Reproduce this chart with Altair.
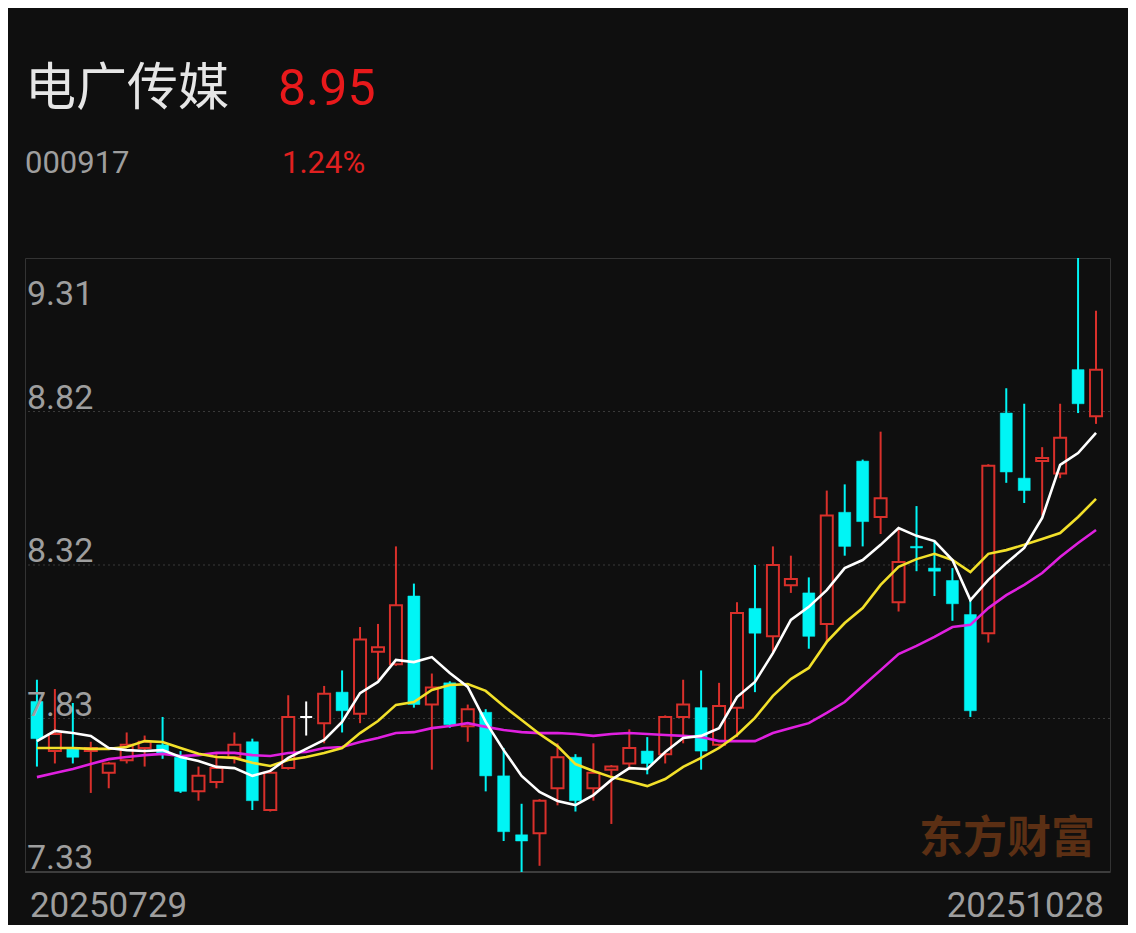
import altair as alt
import pandas as pd

# ---------------- data ----------------
stock_name = "电广传媒"
stock_code = "000917"
last_price = "8.95"
pct_change = "1.24%"
watermark = "东方财富"
date_labels = ["20250729", "20251028"]
date_index = [0, 59]

y_tick_values = [9.31, 8.815, 8.32, 7.825, 7.33]
y_tick_labels = ["9.31", "8.82", "8.32", "7.83", "7.33"]

opens = [7.88, 7.72, 7.73, 7.72, 7.65, 7.69, 7.73, 7.74, 7.70, 7.59,
         7.62, 7.70, 7.75, 7.53, 7.665, 7.83, 7.81, 7.91, 7.84, 8.04,
         8.00, 8.22, 7.87, 7.94, 7.80, 7.845, 7.64, 7.45, 7.455, 7.60,
         7.70, 7.60, 7.66, 7.68, 7.72, 7.71, 7.83, 7.86, 7.74, 7.86,
         8.18, 8.09, 8.255, 8.23, 8.13, 8.49, 8.655, 8.475, 8.20, 8.38,
         8.31, 8.27, 8.16, 8.10, 8.81, 8.60, 8.655, 8.615, 8.95, 8.80]
highs = [7.95, 7.92, 7.875, 7.75, 7.685, 7.78, 7.77, 7.83, 7.72, 7.67,
         7.71, 7.78, 7.76, 7.66, 7.90, 7.88, 7.93, 7.98, 8.12, 8.13,
         8.38, 8.26, 7.97, 7.945, 7.87, 7.855, 7.73, 7.55, 7.565, 7.745,
         7.71, 7.745, 7.675, 7.79, 7.765, 7.835, 7.95, 7.98, 7.94, 8.20,
         8.32, 8.38, 8.35, 8.28, 8.56, 8.58, 8.66, 8.75, 8.44, 8.51,
         8.395, 8.31, 8.21, 8.645, 8.89, 8.84, 8.70, 8.84, 9.31, 9.14]
lows = [7.67, 7.68, 7.68, 7.585, 7.60, 7.68, 7.67, 7.695, 7.585, 7.56,
        7.60, 7.68, 7.53, 7.525, 7.66, 7.77, 7.745, 7.78, 7.81, 7.95,
        7.995, 7.86, 7.66, 7.795, 7.75, 7.59, 7.43, 7.33, 7.35, 7.545,
        7.525, 7.56, 7.485, 7.66, 7.645, 7.68, 7.745, 7.66, 7.735, 7.765,
        7.91, 8.04, 8.23, 8.05, 8.07, 8.35, 8.38, 8.42, 8.17, 8.30,
        8.22, 8.14, 7.83, 8.07, 8.585, 8.52, 8.48, 8.60, 8.81, 8.775]
closes = [7.76, 7.775, 7.70, 7.73, 7.68, 7.74, 7.75, 7.71, 7.59, 7.64,
          7.665, 7.74, 7.56, 7.65, 7.83, 7.83, 7.905, 7.85, 8.08, 8.055,
          8.19, 7.87, 7.925, 7.805, 7.855, 7.64, 7.46, 7.43, 7.56, 7.70,
          7.56, 7.65, 7.67, 7.73, 7.68, 7.83, 7.87, 7.72, 7.865, 8.165,
          8.10, 8.32, 8.275, 8.09, 8.48, 8.38, 8.46, 8.535, 8.33, 8.375,
          8.30, 8.195, 7.85, 8.64, 8.62, 8.56, 8.665, 8.73, 8.84, 8.95]

ma5 = [7.752, 7.785, 7.778, 7.769, 7.730, 7.723, 7.720, 7.723, 7.701, 7.688,
       7.669, 7.665, 7.640, 7.656, 7.698, 7.727, 7.756, 7.814, 7.907, 7.943,
       8.014, 8.007, 8.023, 7.972, 7.927, 7.814, 7.723, 7.640, 7.588, 7.559,
       7.546, 7.578, 7.627, 7.665, 7.662, 7.717, 7.762, 7.769, 7.794, 7.894,
       7.943, 8.036, 8.143, 8.185, 8.239, 8.310, 8.336, 8.385, 8.439, 8.414,
       8.397, 8.336, 8.207, 8.272, 8.326, 8.375, 8.472, 8.643, 8.681, 8.746]
ma10 = [7.730, 7.730, 7.730, 7.727, 7.727, 7.733, 7.752, 7.749, 7.730, 7.711,
        7.701, 7.698, 7.682, 7.672, 7.691, 7.701, 7.714, 7.730, 7.778, 7.817,
        7.869, 7.878, 7.917, 7.933, 7.936, 7.914, 7.865, 7.820, 7.775, 7.736,
        7.678, 7.656, 7.636, 7.623, 7.607, 7.630, 7.669, 7.698, 7.730, 7.772,
        7.827, 7.898, 7.952, 7.988, 8.072, 8.133, 8.181, 8.256, 8.314, 8.339,
        8.356, 8.336, 8.297, 8.356, 8.368, 8.385, 8.404, 8.423, 8.475, 8.533]
ma20 = [7.636, 7.649, 7.662, 7.678, 7.694, 7.701, 7.707, 7.711, 7.704, 7.707,
        7.714, 7.714, 7.707, 7.704, 7.714, 7.717, 7.730, 7.733, 7.749, 7.762,
        7.778, 7.781, 7.794, 7.801, 7.810, 7.798, 7.788, 7.781, 7.778, 7.778,
        7.775, 7.769, 7.775, 7.778, 7.775, 7.772, 7.769, 7.765, 7.752, 7.752,
        7.752, 7.778, 7.794, 7.810, 7.843, 7.878, 7.930, 7.981, 8.033, 8.059,
        8.088, 8.120, 8.127, 8.181, 8.223, 8.256, 8.294, 8.346, 8.391, 8.433]

# ---------------- styles ----------------
BG = "#0f0f0f"
RED = "#d9302b"
CYAN = "#00f5f5"
WHITE = "#ffffff"
YELLOW = "#f2e02a"
MAGENTA = "#e020e0"
GRID = "#3a3a3a"
LABEL = "#9e9e9e"
NUMFONT = "Roboto"
CJKFONT = "Noto Sans CJK SC"

n = len(opens)
idx = list(range(n))
kind = ["up" if c > o else ("down" if c < o else "flat") for o, c in zip(opens, closes)]
df = pd.DataFrame(dict(i=idx, open=opens, high=highs, low=lows, close=closes, kind=kind))

yscale = alt.Scale(domain=[min(y_tick_values), max(y_tick_values)], zero=False, nice=False)
xscale = alt.Scale(domain=[-0.386, 59.5], zero=False, nice=False)
X = alt.X("i:Q", scale=xscale, axis=None)

base = alt.Chart(df)

# grid lines
grid_df = pd.DataFrame({"v": y_tick_values[1:4]})
grid = alt.Chart(grid_df).mark_rule(color=GRID, strokeWidth=1, strokeDash=[2, 3]).encode(
    y=alt.Y("v:Q", scale=yscale, axis=None)
)
bottom_df = pd.DataFrame({"v": [y_tick_values[-1]]})
bottom = alt.Chart(bottom_df).mark_rule(color="#3d3d3d", strokeWidth=2).encode(
    y=alt.Y("v:Q", scale=yscale, axis=None)
)

wicks = base.mark_rule(strokeWidth=2).encode(
    x=X,
    y=alt.Y("low:Q", scale=yscale, axis=None),
    y2="high:Q",
    color=alt.Color("kind:N", scale=alt.Scale(domain=["up", "down", "flat"], range=[RED, CYAN, WHITE]), legend=None),
)

up_body = base.transform_filter(alt.datum.kind == "up").mark_bar(
    size=12, fill=BG, stroke=RED, strokeWidth=2
).encode(x=X, y=alt.Y("open:Q", scale=yscale, axis=None), y2="close:Q")

down_body = base.transform_filter(alt.datum.kind == "down").mark_bar(
    size=12, fill=CYAN, stroke=CYAN, strokeWidth=0.5
).encode(x=X, y=alt.Y("open:Q", scale=yscale, axis=None), y2="close:Q")

flat_body = base.transform_filter(alt.datum.kind == "flat").mark_bar(
    size=12, fill=WHITE, stroke=WHITE, strokeWidth=2
).encode(x=X, y=alt.Y("open:Q", scale=yscale, axis=None), y2="close:Q")


def ma_layer(values, color):
    d = pd.DataFrame({"i": idx, "v": values})
    return alt.Chart(d).mark_line(color=color, strokeWidth=2.6).encode(
        x=X, y=alt.Y("v:Q", scale=yscale, axis=None)
    )


lines = [ma_layer(ma20, MAGENTA), ma_layer(ma10, YELLOW), ma_layer(ma5, WHITE)]

# y labels
lab_df = pd.DataFrame({"v": y_tick_values, "t": y_tick_labels})
ylab_top = alt.Chart(lab_df.iloc[:1]).mark_text(
    align="left", baseline="alphabetic", dy=47, fontSize=34, font=NUMFONT, color=LABEL
).encode(x=alt.value(2), y=alt.Y("v:Q", scale=yscale, axis=None), text="t:N")
ylab_rest = alt.Chart(lab_df.iloc[1:]).mark_text(
    align="left", baseline="alphabetic", dy=-3, fontSize=34, font=NUMFONT, color=LABEL
).encode(x=alt.value(2), y=alt.Y("v:Q", scale=yscale, axis=None), text="t:N")

# date labels
dl_df = pd.DataFrame({"i": date_index, "t": date_labels})
date_left = alt.Chart(dl_df.iloc[:1]).mark_text(
    align="left", baseline="alphabetic", dx=-7, fontSize=35, font=NUMFONT, color=LABEL
).encode(x=X, y=alt.value(659), text="t:N")
date_right = alt.Chart(dl_df.iloc[1:]).mark_text(
    align="right", baseline="alphabetic", dx=8, fontSize=35, font=NUMFONT, color=LABEL
).encode(x=X, y=alt.value(659), text="t:N")


def txt(s, x, y, size, color, font, align="left", weight="normal"):
    return alt.Chart(pd.DataFrame({"t": [s]})).mark_text(
        align=align, baseline="alphabetic", fontSize=size, font=font, color=color, fontWeight=weight
    ).encode(x=alt.value(x), y=alt.value(y), text="t:N")


title_name = txt(stock_name, 0, -153, 51, "#e6e6e6", CJKFONT)
title_price = txt(last_price, 253, -153, 50, "#e8191b", NUMFONT)
sub_code = txt(stock_code, 0, -85, 31, LABEL, NUMFONT)
sub_pct = txt(pct_change, 257, -85, 31, "#e02020", NUMFONT)
wm = txt(watermark, 1070, 595, 44, "#5b2f14", CJKFONT, align="right", weight="bold")

chart = alt.layer(
    grid, bottom, wm, wicks, up_body, down_body, flat_body, *lines,
    ylab_top, ylab_rest, date_left, date_right,
    title_name, title_price, sub_code, sub_pct,
).properties(
    width=1085,
    height=614,
    padding={"left": 17, "top": 250, "right": 18, "bottom": 53},
    autosize=alt.AutoSizeParams(type="none"),
    background=BG,
).configure_view(stroke="#333333", strokeWidth=1)

chart.save("out.html", embed_options={"renderer": "svg", "actions": False})
